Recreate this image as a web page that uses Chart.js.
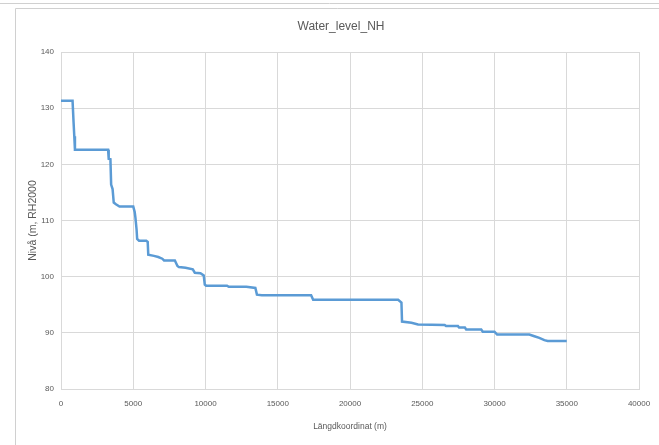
<!DOCTYPE html>
<html>
<head>
<meta charset="utf-8">
<script src="https://cdn.jsdelivr.net/npm/chart.js@4/dist/chart.umd.min.js"></script>
<style>
  html, body { margin: 0; padding: 0; background: #ffffff; }
  #wrap { position: relative; width: 659px; height: 445px; }
</style>
</head>
<body>
<div id="wrap"><canvas id="chart" width="659" height="445"></canvas></div>
<script>
// Longitudinal distance along the watercourse (m)
const distance = [
  0, 800, 870, 920, 965, 3260, 3300, 3420, 3470, 3570, 3650, 3800, 4050, 5000,
  5100, 5150, 5230, 5270, 5400, 5900, 6000, 6040, 6430, 6730, 7010, 7130, 7880,
  8060, 8160, 8620, 9120, 9260, 9650, 9880, 9950, 10040, 11490, 11610, 12830,
  13450, 13560, 13900, 17310, 17450, 23330, 23560, 23600, 24250, 24710, 26550,
  26650, 27470, 27550, 27950, 28040, 29080, 29190, 30000, 30180, 32410, 32760,
  33100, 33450, 33680, 35000
];
// Water level (m, RH2000) at each distance
const level = [
  131.3, 131.3, 127.5, 125.0, 122.6, 122.6, 121.0, 120.9, 116.4, 115.6, 113.2, 112.9, 112.5, 112.5,
  111.5, 110.5, 108.4, 106.7, 106.4, 106.4, 106.2, 103.9, 103.7, 103.5, 103.2, 102.9, 102.9,
  101.9, 101.7, 101.6, 101.3, 100.7, 100.6, 100.2, 98.6, 98.4, 98.4, 98.2, 98.2,
  98.0, 96.8, 96.7, 96.7, 95.9, 95.9, 95.4, 92.0, 91.8, 91.5, 91.4,
  91.2, 91.2, 90.95, 90.95, 90.6, 90.6, 90.2, 90.2, 89.7, 89.7, 89.4,
  89.1, 88.7, 88.55, 88.55
];
const xTicks = { min: 0, max: 40000, step: 5000 };
const yTicks = { min: 80, max: 140, step: 10 };

const points = distance.map((d, i) => ({ x: d, y: level[i] }));

const sans = "'Liberation Sans', Arial, sans-serif";
const grey = '#595959';
const gridGrey = '#d9d9d9';

// light frame around the chart area
const framePlugin = {
  id: 'frame',
  beforeDraw(chart) {
    const ctx = chart.ctx;
    ctx.save();
    ctx.strokeStyle = '#d0d0d0';
    ctx.lineWidth = 1;
    ctx.beginPath();
    ctx.moveTo(0, 3.5); ctx.lineTo(659, 3.5);
    ctx.moveTo(15.5, 8.5); ctx.lineTo(659, 8.5);
    ctx.moveTo(15.5, 8.5); ctx.lineTo(15.5, 445);
    ctx.stroke();
    ctx.restore();
  }
};

// the title is centred over a box that starts at padLeft; the y axis
// itself is widened afterwards so its labels and title have room
const padLeft = 43;
const yAxisLeft = 22;
const widenYAxis = {
  id: 'widenYAxis',
  afterLayout(chart) {
    chart.scales.y.left = yAxisLeft;
  }
};

new Chart(document.getElementById('chart'), {
  type: 'scatter',
  data: {
    datasets: [{
      label: 'Water_level_NH',
      data: points,
      showLine: true,
      borderColor: '#5b9bd5',
      backgroundColor: '#5b9bd5',
      borderWidth: 2.5,
      pointRadius: 0,
      tension: 0
    }]
  },
  options: {
    responsive: false,
    animation: false,
    devicePixelRatio: 1,
    layout: { padding: { top: 8, left: padLeft, right: 20, bottom: 6 } },
    plugins: {
      legend: { display: false },
      tooltip: { enabled: false },
      title: {
        display: true,
        text: 'Water_level_NH',
        color: grey,
        font: { family: sans, size: 12, weight: 'normal' },
        padding: { top: 11, bottom: 18.6 }
      }
    },
    scales: {
      x: {
        type: 'linear',
        min: xTicks.min,
        max: xTicks.max,
        border: { color: gridGrey },
        grid: { color: gridGrey, drawTicks: false },
        ticks: {
          stepSize: xTicks.step,
          color: grey,
          font: { family: sans, size: 8 },
          padding: 10,
          maxRotation: 0,
          callback: v => String(v)
        },
        title: {
          display: true,
          text: 'Längdkoordinat (m)',
          color: grey,
          font: { family: sans, size: 8.5 },
          padding: { top: 0, bottom: 7.5 }
        },
        afterFit(scale) {
          scale.height = 445 - 6 - 389;
          scale.paddingLeft = 0;
          scale.paddingRight = 0;
        }
      },
      y: {
        type: 'linear',
        min: yTicks.min,
        max: yTicks.max,
        border: { color: gridGrey },
        grid: { color: gridGrey, drawTicks: false },
        ticks: {
          stepSize: yTicks.step,
          color: grey,
          font: { family: sans, size: 8 },
          padding: 7
        },
        title: {
          display: true,
          text: 'Nivå (m, RH2000',
          color: grey,
          font: { family: sans, size: 10.5 },
          padding: { top: 4.5, bottom: 0 }
        },
        afterFit(scale) {
          scale.width = 61 - padLeft;
          scale.paddingTop = 0;
          scale.paddingBottom = 0;
        }
      }
    }
  },
  plugins: [framePlugin, widenYAxis]
});
</script>
</body>
</html>
